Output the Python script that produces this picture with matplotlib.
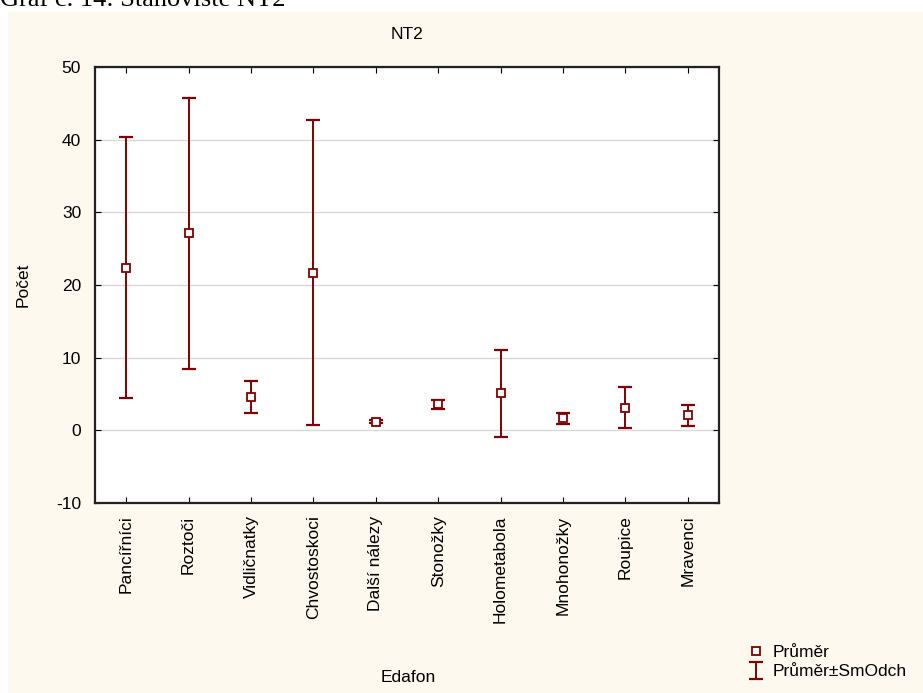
import numpy as np
import matplotlib.pyplot as plt
from matplotlib.patches import Rectangle

# Edafon counts at site NT2: mean and standard deviation per group
groups = ["Pancířníci", "Roztoči", "Vidličnatky", "Chvostoskoci", "Další nálezy",
          "Stonožky", "Holometabola", "Mnohonožky", "Roupice", "Mravenci"]
means = [22.4, 27.1, 4.6, 21.7, 1.2, 3.6, 5.1, 1.65, 3.1, 2.1]
sds = [17.9, 18.6, 2.2, 21.0, 0.25, 0.6, 6.0, 0.75, 2.8, 1.45]
y_ticks = [-10, 0, 10, 20, 30, 40, 50]

dark_red = '#800000'
cream = '#FEF9EE'
fs = 12.5
plt.rcParams['font.family'] = ['Liberation Sans', 'DejaVu Sans']
plt.rcParams['axes.unicode_minus'] = False

fig = plt.figure(figsize=(9.23, 6.93), dpi=100, facecolor='white')
W, H = 923, 693

# cream panel behind the chart, page heading above it
fig.patches.append(Rectangle((8 / W, 0), 1 - 8 / W, 1 - 12 / H, transform=fig.transFigure,
                             facecolor=cream, edgecolor='none', zorder=-1))
fig.text(0 / W, 1 - 6 / H, "Graf č. 14: Stanoviště NT2", family='Liberation Serif',
         fontsize=19, va='baseline', ha='left')

ax = fig.add_axes([95 / W, 1 - 503 / H, (719 - 95) / W, (503 - 67) / H])
ax.set_facecolor('white')

x = np.arange(len(groups))
ax.plot(x, means, 's', ms=6, mfc='white', mec=dark_red, mew=1.3, ls='none',
        label='Průměr', zorder=4)
ax.errorbar(x, means, yerr=sds, fmt='none', ecolor=dark_red, elinewidth=1.4,
            capsize=5, capthick=1.6, label='Průměr±SmOdch', zorder=3)

ax.set_xlim(-0.5, len(groups) - 0.5)
ax.set_ylim(-10, 50)
ax.set_yticks(y_ticks)
ax.set_xticks(x)
ax.set_xticklabels(groups, rotation=90, fontsize=fs)
ax.yaxis.grid(True, color='#d8d8d8', lw=1)
ax.set_axisbelow(True)
ax.tick_params(axis='y', labelsize=fs, length=4, direction='in', right=True,
               labelright=False, pad=10)
ax.tick_params(axis='x', length=4, direction='in', top=True, pad=9)
for s in ax.spines.values():
    s.set_color('#222222')
    s.set_linewidth(1.6)

ax.set_title("NT2", fontsize=fs, pad=20)
ax.set_ylabel("Počet", fontsize=fs, labelpad=18)
fig.text(408 / W, 1 - 677 / H, "Edafon", fontsize=fs, ha='center', va='center')

fig.legend(loc='lower left', bbox_to_anchor=(733 / W, -2 / H), frameon=False, fontsize=fs,
           handlelength=0.9, handletextpad=0.5, labelspacing=0.25)

fig.savefig('out.png', dpi=100, facecolor=fig.get_facecolor())
